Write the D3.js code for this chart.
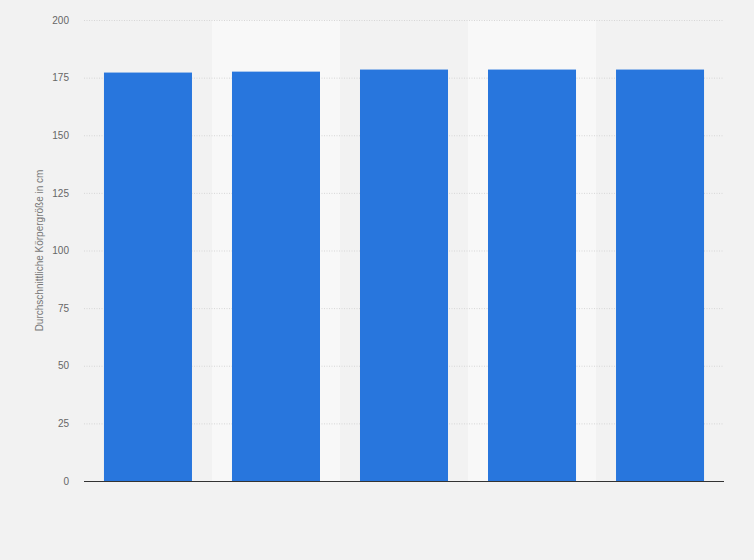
<!DOCTYPE html>
<html lang="de">
<head>
<meta charset="utf-8" />
<title>Durchschnittliche Körpergröße</title>
<script src="https://cdn.jsdelivr.net/npm/d3@7"></script>
<style>
  html, body { margin: 0; padding: 0; background: #f2f2f2; }
  svg { display: block; font-family: "Liberation Sans", Arial, sans-serif; }
</style>
</head>
<body>
<script>
  // categories have no visible labels in the reference
  const categories = ["1", "2", "3", "4", "5"];
  const values = [177.2, 177.6, 178.5, 178.5, 178.5];
  const yTicks = [0, 25, 50, 75, 100, 125, 150, 175, 200];
  const yTitle = "Durchschnittliche Körpergröße in cm";

  const W = 754, H = 560;
  const margin = {left: 84, right: 30, top: 20, bottom: 79};
  const width = W - margin.left - margin.right;
  const height = H - margin.top - margin.bottom;

  const svg = d3.select("body").append("svg")
      .attr("width", W)
      .attr("height", H);

  const plot = svg.append("g")
      .attr("transform", `translate(${margin.left}, ${margin.top})`);

  const x = d3.scaleBand(categories, [0, width]);
  const xBar = d3.scaleBand(categories, [0, width]).paddingInner(0.3125).paddingOuter(0.156);
  const y = d3.scaleLinear([0, 200], [height, 0]);

  // alternating column shading
  plot.append("g")
    .selectAll("rect")
    .data(categories.filter((d, i) => i % 2 == 1))
    .join("rect")
      .attr("x", d => x(d))
      .attr("y", 0)
      .attr("width", x.bandwidth())
      .attr("height", height)
      .attr("fill", "#f8f8f8");

  // grid + tick labels
  const yAxis = plot.append("g")
      .call(d3.axisLeft(y).tickValues(yTicks).tickSize(-width).tickPadding(15));
  yAxis.select(".domain").remove();
  yAxis.selectAll(".tick line")
      .attr("stroke", "#d6d6d6")
      .attr("stroke-dasharray", "1,1.5");
  yAxis.selectAll(".tick text")
      .attr("fill", "#666")
      .style("font-size", "10px");

  plot.append("g")
    .selectAll("rect")
    .data(values)
    .join("rect")
      .attr("x", (d, i) => xBar(categories[i]))
      .attr("y", d => y(d))
      .attr("width", xBar.bandwidth())
      .attr("height", d => height - y(d))
      .attr("fill", "#2876dd");

  // baseline
  plot.append("line")
      .attr("x1", 0)
      .attr("x2", width)
      .attr("y1", y(0) + 0.5)
      .attr("y2", y(0) + 0.5)
      .attr("stroke", "#333")
      .attr("stroke-width", 1.2);

  svg.append("text")
      .attr("transform", `translate(43, ${margin.top + height / 2}) rotate(-90)`)
      .attr("text-anchor", "middle")
      .attr("fill", "#777")
      .style("font-size", "10px")
      .text(yTitle);
</script>
</body>
</html>
